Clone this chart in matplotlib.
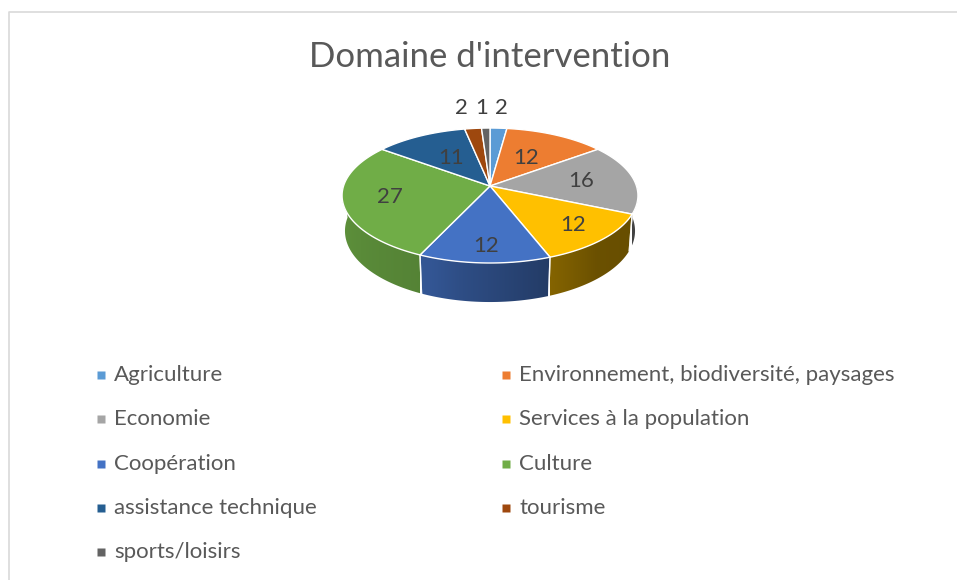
import numpy as np
import matplotlib.pyplot as plt
from matplotlib.patches import Polygon

title = "Domaine d'intervention"
categories = ['Agriculture', 'Environnement, biodiversité, paysages',
              'Economie', 'Services à la population', 'Coopération',
              'Culture', 'assistance technique', 'tourisme', 'sports/loisirs']
values = [2, 12, 16, 12, 12, 27, 11, 2, 1]
colors = ['#5B9BD5', '#ED7D31', '#A5A5A5', '#FFC000', '#4472C4',
          '#70AD47', '#255E91', '#9E480E', '#636363']

# view settings for the fake 3d pie (pixel space)
PHI = np.radians(26.85)
DIST = 6.33
FOCAL = 927.0
THICK = 0.274
CX, CY = 490, 186
TXT = '#595959'


def project(theta, r=1.0, z=0.0):
    # theta clockwise from 12 o'clock, returns pixel coords
    X = r * np.sin(theta)
    Y = r * np.cos(theta)
    d = DIST - (-Y * np.cos(PHI) + z * np.sin(PHI))
    up = Y * np.sin(PHI) + z * np.cos(PHI)
    return CX + X * FOCAL / d, CY - up * FOCAL / d


def rgb_of(hexcol):
    return np.array([int(hexcol[i:i + 2], 16) for i in (1, 3, 5)]) / 255.0


def side_factor(theta):
    deg = np.degrees(theta) % 360
    return np.interp(deg, [90, 140, 190, 200, 270],
                     [0.39, 0.42, 0.68, 0.75, 0.86])


fig = plt.figure(figsize=(9.57, 5.8), dpi=100)
ax = fig.add_axes([0, 0, 1, 1])
ax.axis('off')

# chart border
ax.plot([9, 9, 957], [580, 12, 12], color='#D9D9D9', lw=1.2)

total = float(sum(values))
edges = np.concatenate([[0], np.cumsum(values)]) / total * 2 * np.pi

# side walls first (only the front half is visible)
for i in range(len(values)):
    a0 = max(edges[i], np.pi / 2 - 0.05)
    a1 = min(edges[i + 1], 3 * np.pi / 2 + 0.05)
    if a1 <= a0:
        continue
    th = np.linspace(a0, a1, 80)
    tx, ty = project(th)
    bx, by = project(th, z=-THICK)
    wall = Polygon(np.column_stack([np.concatenate([tx, bx[::-1]]),
                                    np.concatenate([ty, by[::-1]])]),
                   closed=True, fc='none', ec='none')
    ax.add_patch(wall)
    # horizontal gradient following the angle
    order = np.argsort(tx)
    xs = np.linspace(tx.min(), tx.max(), 200)
    fac = np.interp(xs, tx[order], side_factor(th[order]))
    img = (rgb_of(colors[i])[None, :] * fac[:, None])[None, :, :]
    im = ax.imshow(np.clip(img, 0, 1), aspect='auto', interpolation='bilinear',
                   extent=(tx.min(), tx.max(), by.max() + 1, ty.min() - 1))
    im.set_clip_path(wall)
    # separators on the visible wall
    for t in (edges[i], edges[i + 1]):
        if np.cos(t) < 0:
            xa, ya = project(t)
            xb, yb = project(t, z=-THICK)
            ax.plot([xa, xb], [ya, yb], color='white', lw=1, alpha=0.8)

# top faces
for i in range(len(values)):
    a0, a1 = edges[i], edges[i + 1]
    th = np.linspace(a0, a1, max(int(np.degrees(a1 - a0)) * 2, 2) + 1)
    px, py = project(th)
    xs = np.concatenate([[CX], px])
    ys = np.concatenate([[CY], py])
    ax.fill(xs, ys, color=colors[i], ec='white', lw=1.0)

# data labels
small = []
for i, v in enumerate(values):
    mid = (edges[i] + edges[i + 1]) / 2
    if v / total >= 0.05:
        r = 0.65 - 0.15 * np.cos(mid)
        lx, ly = project(mid, r=r)
        ax.text(lx, ly, str(v), ha='center', va='center', fontsize=16,
                color='#404040', family='Lato')
    else:
        rx, ry = project(mid)
        small.append([rx, ry - 20, v])
# spread the small outside labels so they do not overlap
small.sort(key=lambda s: s[0])
gap = 20
cen = np.mean([s[0] for s in small])
for k, s in enumerate(small):
    sx = cen + (k - (len(small) - 1) / 2) * gap - 4
    ax.text(sx, s[1], str(s[2]), ha='center', va='center', fontsize=16,
            color='#404040', family='Lato')

ax.text(490, 57, title, ha='center', va='center', fontsize=25,
        color=TXT, family='Lato')

# legend, two columns
for i, name in enumerate(categories):
    row, col = divmod(i, 2)
    mx = [101, 506][col]
    my = 375 + 44.3 * row
    ax.plot(mx, my, marker='s', ms=5.5, color=colors[i], mec='none')
    ax.text(mx + 13, my, name, ha='left', va='center', fontsize=16,
            color=TXT, family='Lato')

ax.set_xlim(0, 957)
ax.set_ylim(580, 0)
fig.savefig('out.png', dpi=100)
